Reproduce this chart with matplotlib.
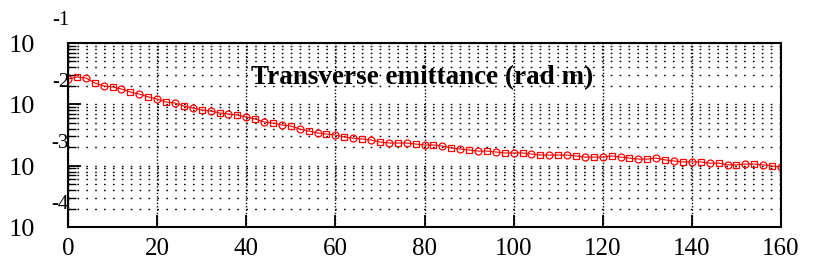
import numpy as np
import matplotlib
matplotlib.use("Agg")
import matplotlib.pyplot as plt

plt.rcParams['font.family'] = ['Liberation Serif', 'DejaVu Serif']

# turn number (step 2) and transverse emittance
turns = list(range(0, 161, 2))
emit = [2.59e-2, 2.79e-2, 2.69e-2, 2.23e-2, 1.99e-2, 1.92e-2, 1.78e-2, 1.59e-2, 1.47e-2, 1.32e-2,
        1.22e-2, 1.09e-2, 1.05e-2, 9.39e-3, 8.71e-3, 8.09e-3, 7.78e-3, 7.22e-3, 6.95e-3, 6.70e-3,
        6.21e-3, 5.76e-3, 5.15e-3, 4.96e-3, 4.60e-3, 4.43e-3, 3.96e-3, 3.67e-3, 3.41e-3, 3.28e-3,
        3.16e-3, 2.93e-3, 2.82e-3, 2.72e-3, 2.62e-3, 2.43e-3, 2.34e-3, 2.34e-3, 2.34e-3, 2.25e-3,
        2.17e-3, 2.17e-3, 2.09e-3, 1.94e-3, 1.87e-3, 1.80e-3, 1.73e-3, 1.73e-3, 1.67e-3, 1.61e-3,
        1.61e-3, 1.61e-3, 1.55e-3, 1.49e-3, 1.49e-3, 1.49e-3, 1.49e-3, 1.44e-3, 1.38e-3, 1.38e-3,
        1.38e-3, 1.44e-3, 1.38e-3, 1.33e-3, 1.28e-3, 1.28e-3, 1.33e-3, 1.24e-3, 1.19e-3, 1.15e-3,
        1.15e-3, 1.15e-3, 1.10e-3, 1.10e-3, 1.03e-3, 1.03e-3, 1.06e-3, 1.06e-3, 1.03e-3, 9.87e-4,
        9.50e-4]

xticks = [0, 20, 40, 60, 80, 100, 120, 140, 160]
decades = [1e-1, 1e-2, 1e-3, 1e-4]
exponents = ["-1", "-2", "-3", "-4"]
title = "Transverse emittance (rad m)"

fig = plt.figure(figsize=(8.15, 2.73), dpi=100)
ax = fig.add_axes([68/815, 1-227/273, (781-68)/815, (227-43)/273])

ax.set_yscale('log')
ax.set_xlim(0, 160)
ax.set_ylim(1e-4, 1e-1)

# grid
ax.set_yticks(decades)
ax.set_yticks([m*d/10 for d in decades[:3] for m in range(2, 10)], minor=True)
ax.grid(True, which='both', axis='y', color='black', linewidth=1.0,
        linestyle=(0, (1.2, 5.2)))
ax.set_xticks(xticks)
ax.grid(True, which='major', axis='x', color='black', linewidth=1.0,
        linestyle=(0, (1, 1.4)))
ax.set_axisbelow(True)

t = np.array(turns)
e = np.array(emit)
ax.plot(t, e, color='red', linewidth=0.8)
ax.plot(t[0::2], e[0::2], 'o', mfc='none', mec='red', ms=5, mew=0.9)
ax.plot(t[1::2], e[1::2], 's', mfc='none', mec='red', ms=4.5, mew=0.9)

ax.tick_params(axis='x', which='major', direction='in', length=9, width=1.3,
               labelsize=18, pad=8)
ax.tick_params(axis='y', which='major', direction='in', length=9, width=1.3,
               labelleft=False)
ax.tick_params(axis='y', which='minor', direction='in', length=6, width=1.0,
               labelleft=False)
for s in ax.spines.values():
    s.set_linewidth(1.5)

# odd-looking "10" with raised exponent labels
for d, ex in zip(decades, exponents):
    ax.annotate("10", xy=(0, d), xycoords=('axes fraction', 'data'),
                xytext=(-23.5, -2.2), textcoords='offset points',
                ha='right', va='center', fontsize=19)
    ax.annotate(ex, xy=(0, d), xycoords=('axes fraction', 'data'),
                xytext=(0.8, 16), textcoords='offset points',
                ha='right', va='center', fontsize=15)

ax.text(0.497, 0.81, title, transform=ax.transAxes, ha='center', va='center',
        fontsize=19.5, fontweight='bold')

fig.savefig("out.png", dpi=100)
